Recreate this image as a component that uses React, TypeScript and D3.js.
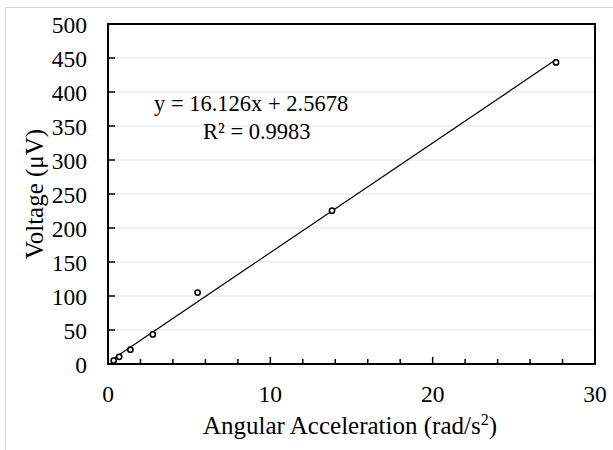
import React from 'react';
import * as d3 from 'd3';

// measured points (angular acceleration vs voltage)
const accel = [0.345, 0.69, 1.38, 2.76, 5.52, 13.8, 27.6];
const voltage = [5, 10.5, 21, 43.5, 105, 225.5, 443.5];
const slope = 16.126;
const intercept = 2.5678;
const xTicks = [0, 10, 20, 30];
const xMinorTicks = d3.range(0, 31, 2);
const yTicks = d3.range(0, 501, 50);

const W = 613, H = 450;
const left = 108, right = 595, top = 24, bottom = 364;
const font = "'Liberation Serif', 'Times New Roman', serif";

export default function App() {
  const x = d3.scaleLinear().domain([0, 30]).range([left, right]);
  const y = d3.scaleLinear().domain([0, 500]).range([bottom, top]);

  const xs = d3.extent(accel) as [number, number];
  const fit = d3.line<number>().x(d => x(d)).y(d => y(slope * d + intercept));

  return (
    <svg width={W} height={H} style={{ position: 'absolute', left: 0, top: 0, background: '#fff' }} fontFamily={font}>
      {/* chart area border */}
      <line x1={5.5} x2={5.5} y1={7} y2={H} stroke="#d9d9d9" />
      <line x1={5} x2={W} y1={7.5} y2={7.5} stroke="#d9d9d9" />

      {yTicks.slice(1, -1).map(t => (
        <line key={'g' + t} x1={left} x2={right} y1={y(t)} y2={y(t)} stroke="#e3e3e3" strokeWidth={1} />
      ))}

      {/* ticks inside */}
      {yTicks.map(t => (
        <line key={'yt' + t} x1={left} x2={left + 7} y1={y(t)} y2={y(t)} stroke="#000" strokeWidth={1.5} />
      ))}
      {xMinorTicks.map(t => (
        <line key={'xt' + t} x1={x(t)} x2={x(t)} y1={bottom} y2={bottom - (t % 10 === 0 ? 7 : 5)} stroke="#000" strokeWidth={1.5} />
      ))}

      <rect x={left} y={top} width={right - left} height={bottom - top} fill="none" stroke="#000" strokeWidth={2} />

      <path d={fit(xs) || ''} stroke="#000" strokeWidth={1.2} fill="none" />

      {accel.map((a, i) => (
        <circle key={i} cx={x(a)} cy={y(voltage[i])} r={2.6} fill="#fff" stroke="#000" strokeWidth={1.6} />
      ))}

      {yTicks.map(t => (
        <text key={'yl' + t} x={87} y={y(t) + 8.5} textAnchor="end" fontSize={23.5}>{t}</text>
      ))}
      {xTicks.map(t => (
        <text key={'xl' + t} x={x(t)} y={402} textAnchor="middle" fontSize={23.5}>{t}</text>
      ))}

      <text x={350} y={434} textAnchor="middle" fontSize={25}>
        Angular Acceleration (rad/s<tspan dy={-9} fontSize={16}>2</tspan><tspan dy={9}>)</tspan>
      </text>
      <text transform={`translate(43,${(top + bottom) / 2}) rotate(-90)`} textAnchor="middle" fontSize={25}>
        Voltage (μV)
      </text>

      <text x={154} y={111} fontSize={22.5}>y = 16.126x + 2.5678</text>
      <text x={203} y={139} fontSize={22.5}>R² = 0.9983</text>
    </svg>
  );
}
